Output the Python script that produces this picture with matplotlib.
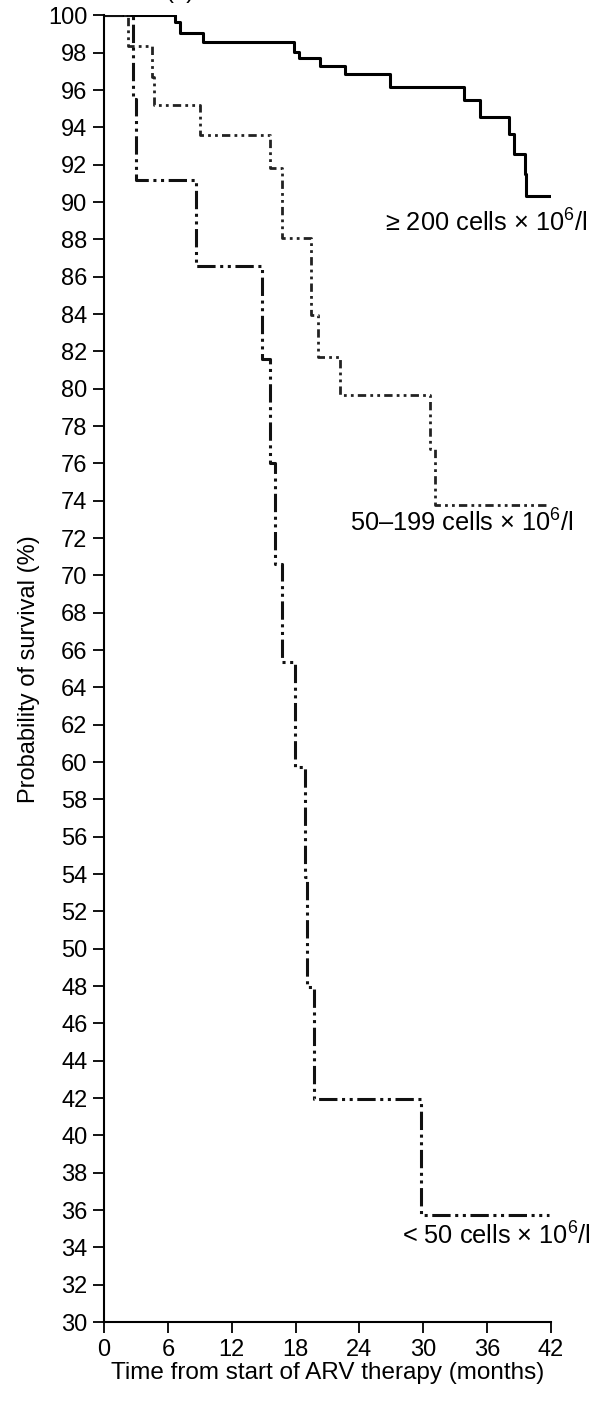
import matplotlib
matplotlib.use("Agg")
import matplotlib.pyplot as plt

plt.rcParams['font.family'] = ['Liberation Sans', 'DejaVu Sans']
plt.rcParams['mathtext.fontset'] = 'custom'
plt.rcParams['mathtext.rm'] = 'Liberation Sans'
plt.rcParams['mathtext.it'] = 'Liberation Sans:italic'
plt.rcParams['mathtext.bf'] = 'Liberation Sans:bold'

# Kaplan-Meier steps (months, % surviving)
t_high = [0, 6.7, 7.1, 9.3, 17.8, 18.3, 20.3, 22.65, 26.9, 33.8, 35.3, 38.1, 38.5, 39.6, 39.7, 42.2]
s_high = [100, 99.64, 99.07, 98.57, 98.03, 97.73, 97.27, 96.84, 96.16, 95.48, 94.55, 93.66, 92.59, 91.52, 90.3, 90.3]

t_mid = [0, 2.2, 4.5, 4.7, 9.0, 15.6, 16.7, 19.4, 20.1, 22.2, 30.6, 31.1, 41.6]
s_mid = [100, 98.36, 96.7, 95.2, 93.57, 91.8, 88.1, 83.93, 81.7, 79.64, 76.79, 73.75, 73.75]

t_low = [0, 2.75, 3.0, 8.6, 14.8, 15.6, 16.1, 16.7, 17.95, 18.9, 19.05, 19.7, 29.8, 41.8]
s_low = [100, 95.5, 91.16, 86.6, 81.6, 76.0, 70.63, 65.36, 59.74, 53.85, 47.95, 41.97, 35.75, 35.75]

labels = ['\u2265 200 cells \u00d7 10$^6$/l', '50\u2013199 cells \u00d7 10$^6$/l', '< 50 cells \u00d7 10$^6$/l']
label_pos = [(45.4, 88.9), (44.1, 72.8), (45.8, 34.6)]

x_ticks = list(range(0, 43, 6))
y_ticks = list(range(30, 101, 2))

fig = plt.figure(figsize=(5.95, 14.02), dpi=100)
ax = fig.add_axes([0.175, 0.057, 0.751, 0.932])

ax.step(t_high, s_high, where='post', color='black', lw=2.2, solid_capstyle='butt')
ax.step(t_mid, s_mid, where='post', color='#222222', lw=2.0,
        linestyle=(0, (3, 1.5, 1, 1.5, 1, 1.5)))
ax.step(t_low, s_low, where='post', color='#111111', lw=2.2,
        linestyle=(0, (6, 1.5, 1, 1.5, 1, 1.5)))

for txt, (x, y) in zip(labels, label_pos):
    ax.text(x, y, txt, ha='right', va='center', fontsize=18.3, clip_on=False)

ax.set_xlim(0, 42)
ax.set_ylim(30, 100)
ax.set_xticks(x_ticks)
ax.set_yticks(y_ticks)
ax.tick_params(direction='out', length=8, width=1.3, labelsize=17, pad=4)
for side in ['top', 'right']:
    ax.spines[side].set_visible(False)
for side in ['left', 'bottom']:
    ax.spines[side].set_linewidth(1.5)

ax.set_xlabel('Time from start of ARV therapy (months)', fontsize=17.5, labelpad=1)
ax.set_ylabel('Probability of survival (%)', fontsize=17, labelpad=6)

fig.text(0.302, 1.006, '(a)', fontsize=17, ha='center', va='center')

fig.savefig('out.png', dpi=100)
